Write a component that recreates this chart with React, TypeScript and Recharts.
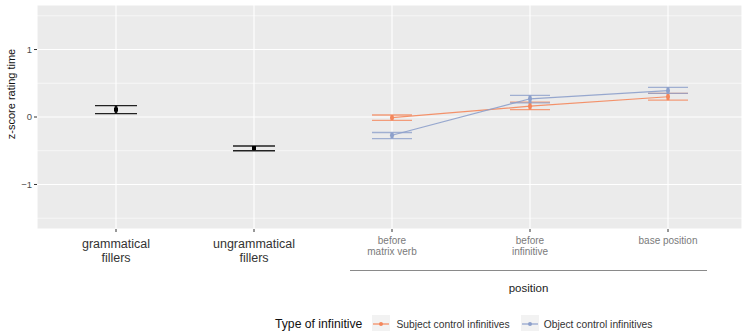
import React from "react"
import { ComposedChart, Line, ErrorBar, XAxis, YAxis, CartesianGrid, ReferenceLine } from "recharts"

document.body.style.margin = "0"

const categories = ["grammatical fillers", "ungrammatical fillers", "before matrix verb", "before infinitive", "base position"]
const tickLines = [["grammatical", "fillers"], ["ungrammatical", "fillers"], ["before", "matrix verb"], ["before", "infinitive"], ["base position"]]

// fillers (black), one estimate per filler category
const fillerMean = [0.11, -0.46, null, null, null]
const fillerLow = [0.05, -0.5, null, null, null]
const fillerHigh = [0.17, -0.43, null, null, null]

// subject control infinitives
const subjMean = [null, null, -0.01, 0.16, 0.3]
const subjLow = [null, null, -0.05, 0.11, 0.25]
const subjHigh = [null, null, 0.03, 0.22, 0.35]

// object control infinitives
const objMean = [null, null, -0.27, 0.27, 0.39]
const objLow = [null, null, -0.32, 0.21, 0.35]
const objHigh = [null, null, -0.23, 0.32, 0.44]

const yTicks = [-1, 0, 1]
const minorTicks = [-1.5, -0.5, 0.5, 1.5]
const seriesNames = ["Subject control infinitives", "Object control infinitives"]
const legendTitle = "Type of infinitive"

const ORANGE = "#F4875C"
const BLUE = "#8DA0CB"
const FONT = "'Liberation Sans', Arial, sans-serif"

const err = (m: (number | null)[], lo: (number | null)[], hi: (number | null)[], i: number) =>
  m[i] == null ? null : [(m[i] as number) - (lo[i] as number), (hi[i] as number) - (m[i] as number)]

const data = categories.map((cat, i) => ({
  cat,
  filler: fillerMean[i],
  fillerErr: err(fillerMean, fillerLow, fillerHigh, i),
  subj: subjMean[i],
  subjErr: err(subjMean, subjLow, subjHigh, i),
  obj: objMean[i],
  objErr: err(objMean, objLow, objHigh, i),
}))

const XTick = (props: any) => {
  const { x, y, payload, index } = props
  const lines = tickLines[index] || [payload.value]
  const big = index < 2
  return (
    <text
      x={x}
      y={y}
      textAnchor="middle"
      fontFamily={FONT}
      fontSize={big ? 12.5 : 10}
      fill={big ? "#333333" : "#7a7a7a"}
    >
      {lines.map((l: string, k: number) => (
        <tspan key={k} x={x} dy={k === 0 ? (big ? 13.5 : 9.5) : big ? 14.5 : 11}>
          {l}
        </tspan>
      ))}
    </text>
  )
}

const dotOf = (color: string) => (p: any) =>
  p.value == null ? <g key={p.index} /> : <circle key={p.index} cx={p.cx} cy={p.cy} r={2} fill={color} />

const fillerDot = (p: any) =>
  p.value == null ? <g key={p.index} /> : <rect key={p.index} x={p.cx - 2} y={p.cy - 2} width={4} height={4} fill="#000" />

const LegendKey = ({ color }: { color: string }) => (
  <svg width={18} height={18} style={{ display: "block" }}>
    <rect x={0} y={0} width={18} height={18} fill="#F2F2F2" />
    <line x1={1} y1={9} x2={17} y2={9} stroke={color} strokeWidth={1.2} />
    <circle cx={9} cy={9} r={2} fill={color} />
  </svg>
)

export default function App() {
  return (
    <div style={{ position: "relative", width: 742, height: 331, background: "#fff", fontFamily: FONT }}>
      <ComposedChart width={742} height={331} data={data} margin={{ top: 5, right: 0, bottom: 0, left: 0 }}>
        <CartesianGrid stroke="#FFFFFF" strokeWidth={1.1} fill="#EBEBEB" fillOpacity={1} />
        {minorTicks.map((t) => (
          <ReferenceLine key={t} y={t} stroke="#FFFFFF" strokeWidth={0.6} />
        ))}
        <XAxis
          dataKey="cat"
          type="category"
          interval={0}
          height={102}
          padding={{ left: 79, right: 74 }}
          axisLine={false}
          tickSize={3}
          tickLine={{ stroke: "#333333" }}
          tick={<XTick />}
        />
        <YAxis
          type="number"
          domain={[-1.66, 1.66]}
          allowDataOverflow
          ticks={yTicks}
          width={37}
          axisLine={false}
          tickSize={3}
          tickLine={{ stroke: "#333333" }}
          tick={{ fontSize: 9.5, fill: "#4D4D4D", fontFamily: FONT }}
          tickFormatter={(v: number) => String(v).replace("-", "\u2212")}
          label={{
            content: () => (
              <text
                transform="translate(15,94) rotate(-90)"
                textAnchor="middle"
                fontFamily={FONT}
                fontSize={11}
                fill="#111"
              >
                z-score rating time
              </text>
            ),
          }}
        />
        <Line dataKey="filler" stroke="none" dot={fillerDot} activeDot={false} isAnimationActive={false}>
          <ErrorBar dataKey="fillerErr" width={21} stroke="#222" strokeWidth={1.3} />
          <ErrorBar dataKey="fillerErr" width={0} stroke="#111" strokeWidth={2.5} />
        </Line>
        <Line
          dataKey="subj"
          stroke={ORANGE}
          strokeWidth={1.2}
          strokeOpacity={0.9}
          dot={dotOf(ORANGE)}
          activeDot={false}
          isAnimationActive={false}
        >
          <ErrorBar dataKey="subjErr" width={20} stroke={ORANGE} strokeOpacity={0.8} strokeWidth={1.3} />
          <ErrorBar dataKey="subjErr" width={0} stroke={ORANGE} strokeWidth={3} />
        </Line>
        <Line
          dataKey="obj"
          stroke={BLUE}
          strokeWidth={1.2}
          strokeOpacity={0.9}
          dot={dotOf(BLUE)}
          activeDot={false}
          isAnimationActive={false}
        >
          <ErrorBar dataKey="objErr" width={20} stroke={BLUE} strokeOpacity={0.8} strokeWidth={1.3} />
          <ErrorBar dataKey="objErr" width={0} stroke={BLUE} strokeWidth={3} />
        </Line>
      </ComposedChart>
      <div style={{ position: "absolute", left: 350, top: 270, width: 357, height: 0, borderTop: "1.5px solid #8a8a8a" }} />
      <div
        style={{ position: "absolute", left: 350, width: 357, top: 282, textAlign: "center", fontSize: 11.5, color: "#222" }}
      >
        position
      </div>
      <div style={{ position: "absolute", left: 275, top: 315, display: "flex", alignItems: "center", height: 18 }}>
        <span style={{ fontSize: 12.2, color: "#111", marginRight: 10 }}>{legendTitle}</span>
        <LegendKey color={ORANGE} />
        <span style={{ fontSize: 10.3, color: "#333", marginLeft: 6, marginRight: 11 }}>{seriesNames[0]}</span>
        <LegendKey color={BLUE} />
        <span style={{ fontSize: 10.3, color: "#333", marginLeft: 5 }}>{seriesNames[1]}</span>
      </div>
    </div>
  )
}
